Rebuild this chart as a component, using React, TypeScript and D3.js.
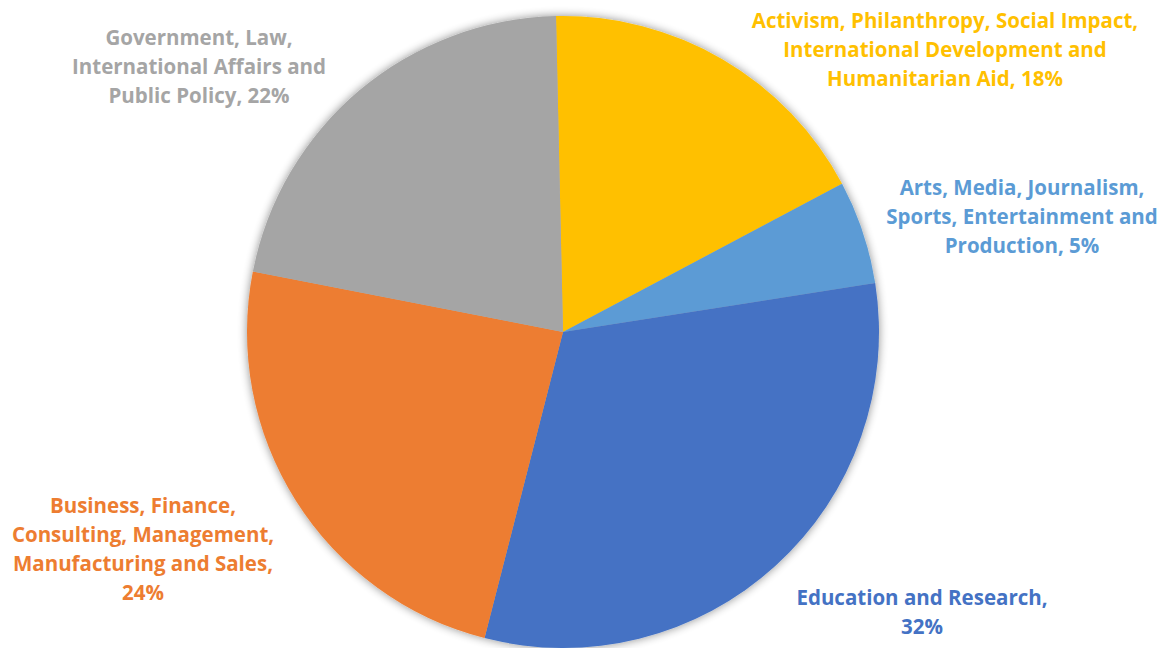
import { useMemo } from "react";
import { pie as d3pie, arc as d3arc } from "d3";

const categories = [
  "Activism, Philanthropy, Social Impact, International Development and Humanitarian Aid",
  "Arts, Media, Journalism, Sports, Entertainment and Production",
  "Education and Research",
  "Business, Finance, Consulting, Management, Manufacturing and Sales",
  "Government, Law, International Affairs and Public Policy",
];
const values = [17.6, 5.3, 31.5, 24.1, 21.6];
const percentLabels = ["18%", "5%", "32%", "24%", "22%"];
const labelLines = [
  ["Activism, Philanthropy, Social Impact,", "International Development and", "Humanitarian Aid, 18%"],
  ["Arts, Media, Journalism,", "Sports, Entertainment and", "Production, 5%"],
  ["Education and Research,", "32%"],
  ["Business, Finance,", "Consulting, Management,", "Manufacturing and Sales,", "24%"],
  ["Government, Law,", "International Affairs and", "Public Policy, 22%"],
];

const COLORS = ["#FFC000", "#5B9BD5", "#4472C4", "#ED7D31", "#A5A5A5"];
// label block centres (first line), picked to sit where the source places them
const LABEL_POS: [number, number][] = [
  [945, 20],
  [1022, 187],
  [922, 597],
  [143, 505],
  [199, 37],
];

const WIDTH = 1168;
const HEIGHT = 648;
const CX = 563;
const CY = 332;
const R = 316;
const START = (-1.27 * Math.PI) / 180;
const LINE_H = 29;

export default function App() {
  const arcs = useMemo(() => {
    const gen = d3pie<number>()
      .sort(null)
      .startAngle(START)
      .endAngle(START + 2 * Math.PI)
      .value((d) => d);
    return gen(values);
  }, []);

  const arcPath = d3arc<any>().innerRadius(0).outerRadius(R);

  return (
    <svg
      width={WIDTH}
      height={HEIGHT}
      viewBox={`0 0 ${WIDTH} ${HEIGHT}`}
      style={{ position: "absolute", left: 0, top: 0, background: "#fff" }}
      role="img"
      aria-label="Pie chart of career sectors"
    >
      <defs>
        <filter id="soft" x="-10%" y="-10%" width="120%" height="120%">
          <feGaussianBlur in="SourceAlpha" stdDeviation="5" />
          <feComponentTransfer>
            <feFuncA type="linear" slope="0.45" />
          </feComponentTransfer>
          <feMerge>
            <feMergeNode />
            <feMergeNode in="SourceGraphic" />
          </feMerge>
        </filter>
      </defs>
      <g transform={`translate(${CX},${CY})`} filter="url(#soft)">
        {arcs.map((a, i) => (
          <path key={i} d={arcPath(a) ?? ""} fill={COLORS[i]}>
            <title>{`${categories[i]}, ${percentLabels[i]}`}</title>
          </path>
        ))}
      </g>
      {labelLines.map((lines, i) => (
        <text
          key={i}
          x={LABEL_POS[i][0]}
          y={LABEL_POS[i][1]}
          textAnchor="middle"
          dominantBaseline="central"
          fontFamily="'Open Sans', Lato, sans-serif"
          fontWeight={700}
          fontSize={20.5}
          fill={COLORS[i]}
        >
          {lines.map((l, j) => (
            <tspan key={j} x={LABEL_POS[i][0]} dy={j === 0 ? 0 : LINE_H}>
              {l}
            </tspan>
          ))}
        </text>
      ))}
    </svg>
  );
}
